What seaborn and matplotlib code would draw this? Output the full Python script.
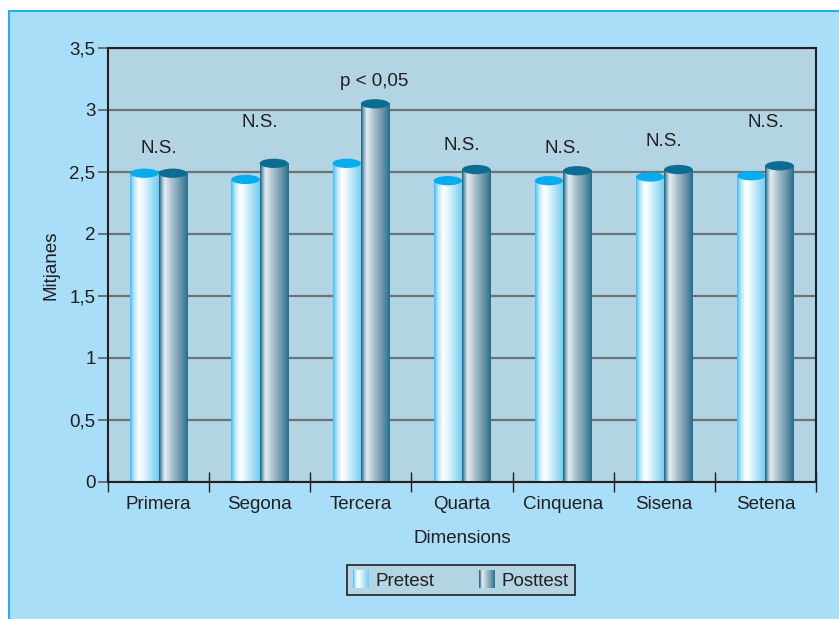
import matplotlib
matplotlib.use("Agg")
import matplotlib.pyplot as plt
import numpy as np
import pandas as pd
import seaborn as sns
from matplotlib.colors import LinearSegmentedColormap
from matplotlib.patches import Ellipse, Rectangle
from matplotlib.legend_handler import HandlerBase

# Data
dimensions = ["Primera", "Segona", "Tercera", "Quarta", "Cinquena", "Sisena", "Setena"]
pretest = [2.49, 2.44, 2.57, 2.43, 2.43, 2.46, 2.47]
posttest = [2.49, 2.57, 3.05, 2.52, 2.51, 2.52, 2.55]
sig_labels = ["N.S.", "N.S.", "p < 0,05", "N.S.", "N.S.", "N.S.", "N.S."]
sig_y = [2.69, 2.90, 3.23, 2.71, 2.69, 2.75, 2.90]
y_ticks = [0, 0.5, 1, 1.5, 2, 2.5, 3, 3.5]
y_tick_labels = ["0", "0,5", "1", "1,5", "2", "2,5", "3", "3,5"]

df = pd.DataFrame({
    "Dimensions": dimensions * 2,
    "Mitjanes": pretest + posttest,
    "Grup": ["Pretest"] * len(dimensions) + ["Posttest"] * len(dimensions),
})

# colours
fig_bg = "#a9def9"
plot_bg = "#b3d4e3"
txt = "#231f20"
fs = 13.5
pre_cmap = LinearSegmentedColormap.from_list("pre", [
    (0.0, "#3fbdf0"), (0.12, "#a9e3f9"), (0.3, "#ffffff"), (0.45, "#eaf8fd"),
    (0.75, "#a6dff7"), (1.0, "#6ccff4")])
post_cmap = LinearSegmentedColormap.from_list("post", [
    (0.0, "#13607e"), (0.1, "#8fb3c4"), (0.2, "#e6edf1"), (0.45, "#a9c1cd"),
    (0.75, "#6a95a9"), (1.0, "#236f8d")])
caps = {"Pretest": "#05adee", "Posttest": "#0b6d91"}
cmaps = {"Pretest": pre_cmap, "Posttest": post_cmap}

sns.set_theme(style="white")
plt.rcParams["font.family"] = ["Liberation Sans", "DejaVu Sans"]
plt.rcParams["text.color"] = txt

fig = plt.figure(figsize=(8.39, 6.19), dpi=100, facecolor="white")
fig.patches.append(Rectangle((9 / 839, -0.1), 1.2, 1 - 11 / 619 + 0.1,
                             transform=fig.transFigure, facecolor=fig_bg,
                             edgecolor="#1fb3ee", lw=1.5, zorder=-10))
ax = fig.add_axes([108 / 839, 1 - 482 / 619, (816 - 108) / 839, (482 - 48) / 619])
ax.set_facecolor(plot_bg)

sns.barplot(data=df, x="Dimensions", y="Mitjanes", hue="Grup",
            hue_order=["Pretest", "Posttest"], width=0.56, gap=0,
            legend=False, ax=ax, zorder=2)

grad = np.linspace(0, 1, 200).reshape(1, -1)
n = len(dimensions)
for i, bar in enumerate(list(ax.patches)):
    grp = "Pretest" if i < n else "Posttest"
    x0, w, h = bar.get_x(), bar.get_width(), bar.get_height()
    bar.set_facecolor("none")
    bar.set_edgecolor("none")
    ax.imshow(grad, cmap=cmaps[grp], aspect="auto", extent=[x0, x0 + w, 0, h],
              zorder=2, interpolation="bilinear")
    ax.add_patch(Ellipse((x0 + w / 2, h), w, 0.075, facecolor=caps[grp],
                         edgecolor="none", zorder=3))

for i, (lab, y) in enumerate(zip(sig_labels, sig_y)):
    ax.text(i + (0.13 if lab != "N.S." else 0), y, lab, ha="center", va="center",
            fontsize=fs, color=txt)

ax.set_xlim(-0.5, n - 0.5)
ax.set_ylim(0, 3.5)
ax.set_yticks(y_ticks, y_tick_labels)
ax.yaxis.grid(True, color="#6b7377", lw=1.6)
ax.set_axisbelow(True)
ax.tick_params(axis="y", length=7, width=1.4, color="#6b7377", pad=2,
               labelsize=fs, labelcolor=txt, left=True)

ax.set_xticks(np.arange(-0.5, n), [""] * (n + 1))
ax.set_xticks(range(n), dimensions, minor=True)
ax.tick_params(axis="x", which="major", direction="inout", length=14, width=1,
               color=txt, bottom=True)
ax.tick_params(axis="x", which="minor", length=0, pad=10, labelsize=fs,
               labelcolor=txt)

for side in ["left", "bottom", "right", "top"]:
    ax.spines[side].set_visible(True)
    ax.spines[side].set_color(txt)
    ax.spines[side].set_linewidth(1.5)

ax.set_ylabel("Mitjanes", fontsize=fs, color=txt, labelpad=7)
ax.set_xlabel("Dimensions", fontsize=fs, color=txt, labelpad=12)


class GradHandler(HandlerBase):
    def __init__(self, cmap):
        super().__init__()
        self.cmap = cmap

    def create_artists(self, legend, orig_handle, xdescent, ydescent, width,
                       height, fontsize, trans):
        k = 24
        sw = width / k
        return [Rectangle((-xdescent + j * sw, -ydescent), sw * 1.05, height,
                          facecolor=self.cmap((j + 0.5) / k), lw=0,
                          transform=trans) for j in range(k)]


h_pre = Rectangle((0, 0), 1, 1)
h_post = Rectangle((0, 0), 1, 1)
leg = fig.legend([h_pre, h_post], ["Pretest", "Posttest"], loc="center",
                 bbox_to_anchor=(461 / 839, 1 - 580 / 619), ncol=2,
                 handler_map={h_pre: GradHandler(pre_cmap),
                              h_post: GradHandler(post_cmap)},
                 handlelength=0.85, handleheight=1.1, handletextpad=0.35,
                 columnspacing=2.4, fontsize=fs, fancybox=False,
                 framealpha=1, facecolor=plot_bg, edgecolor=txt,
                 borderpad=0.3)
leg.get_frame().set_linewidth(1.2)

fig.savefig("out.png", dpi=100, facecolor="white")
